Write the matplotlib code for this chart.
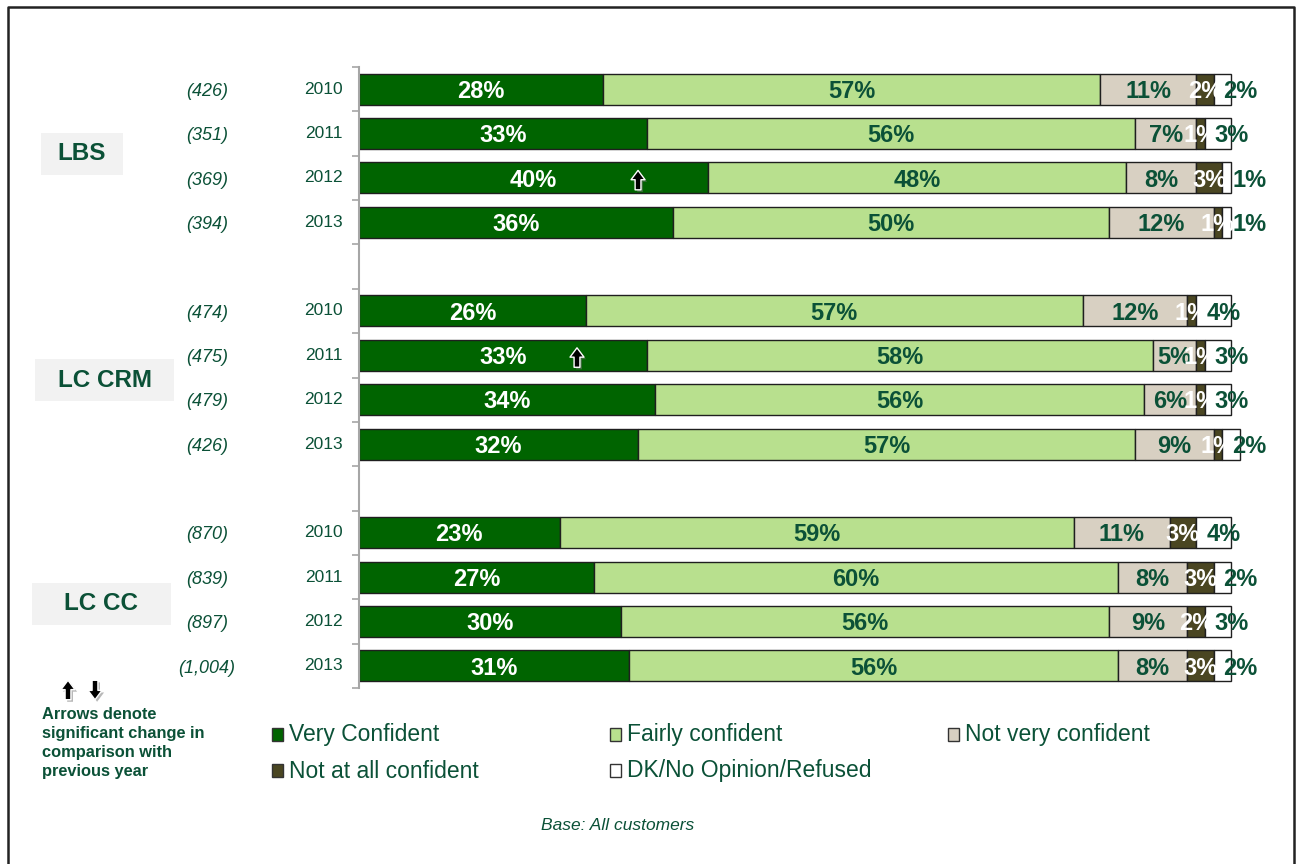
# ------------------------------------------------
# CONFIDENCE BY CHANNEL AND YEAR - STACKED BARS
import numpy as np
import matplotlib
matplotlib.use('Agg')
from matplotlib import pyplot as plt
from matplotlib.patches import Rectangle
from matplotlib.lines import Line2D
from matplotlib.path import Path
import matplotlib.transforms as mtrans
import matplotlib.patheffects as pe

plt.rcParams['font.family'] = ['Liberation Sans', 'DejaVu Sans']

# ------------------------------------------------
# DATA
groups = ['LBS', 'LC CRM', 'LC CC']
years = ['2010', '2011', '2012', '2013']
bases = ['(426)', '(351)', '(369)', '(394)',
         '(474)', '(475)', '(479)', '(426)',
         '(870)', '(839)', '(897)', '(1,004)']

very_conf = [28, 33, 40, 36, 26, 33, 34, 32, 23, 27, 30, 31]
fairly_conf = [57, 56, 48, 50, 57, 58, 56, 57, 59, 60, 56, 56]
not_very = [11, 7, 8, 12, 12, 5, 6, 9, 11, 8, 9, 8]
not_at_all = [2, 1, 3, 1, 1, 1, 1, 1, 3, 3, 2, 3]
dk_refused = [2, 3, 1, 1, 4, 3, 3, 2, 4, 2, 3, 2]

series_names = ['Very Confident', 'Fairly confident', 'Not very confident',
                'Not at all confident', 'DK/No Opinion/Refused']

# significant rises vs previous year
sig_up = [('LBS', '2012'), ('LC CRM', '2011')]

# ------------------------------------------------
# STYLE
W, H = 1297, 864
TXT = '#0b5137'
colors = ['#006400', '#b8e08e', '#d8d0c2', '#4a4622', '#ffffff']
label_colors = ['white', TXT, TXT, 'white', TXT]


def fx(x):
    return x / W


def fy(y):
    return 1 - y / H


fig = plt.figure(figsize=(W / 100, H / 100), dpi=100)
ax = fig.add_axes([fx(359), fy(688), 872 / W, 621 / H])
ax.set_xlim(0, 100)
ax.set_ylim(13.5, -0.5)

# 4 rows per group, blank slot between groups
pos = []
for g in range(len(groups)):
    for k in range(len(years)):
        pos.append(g * 5 + k)
pos = np.array(pos)

# ------------------------------------------------
# BARS + LABELS
all_series = [very_conf, fairly_conf, not_very, not_at_all, dk_refused]
left = np.zeros(len(pos))
for s, vals in enumerate(all_series):
    vals = np.array(vals, dtype=float)
    ax.barh(pos, vals, left=left, height=0.7, color=colors[s],
            edgecolor='#1f1f1f', linewidth=1, clip_on=False, zorder=2)
    for i in range(len(pos)):
        if s == 4:
            xt, ha = left[i] + 1.15, 'left'
        else:
            xt, ha = left[i] + vals[i] / 2, 'center'
        ax.text(xt, pos[i] + 0.05, '%d%%' % vals[i], ha=ha, va='center',
                fontsize=17, fontweight='bold', color=label_colors[s],
                zorder=5, clip_on=False)
    left = left + vals

# axis line with ticks between rows
for side in ['top', 'right', 'bottom']:
    ax.spines[side].set_visible(False)
ax.spines['left'].set_color('#a6a6a6')
ax.spines['left'].set_linewidth(1.5)
ax.set_xticks([])
ax.set_yticks(np.arange(-0.5, 14, 1))
ax.set_yticklabels([])
ax.tick_params(axis='y', length=5, width=1.2, color='#a6a6a6', direction='out')
ax.patch.set_visible(False)

# ------------------------------------------------
# ROW TEXT (years, base sizes, group boxes)
tr = mtrans.blended_transform_factory(fig.transFigure, ax.transData)
for i in range(len(pos)):
    ax.text(fx(343), pos[i], years[i % 4], transform=tr, ha='right', va='center',
            fontsize=12.5, color=TXT)
    ax.text(fx(207), pos[i] + 0.05, bases[i], transform=tr, ha='center', va='center',
            fontsize=13, style='italic', color=TXT)

group_boxes = [(41, 133, 123, 175), (35, 359, 174, 401), (32, 583, 171, 625)]
for name, (x0, y0, x1, y1) in zip(groups, group_boxes):
    fig.patches.append(Rectangle((fx(x0), fy(y1)), (x1 - x0) / W, (y1 - y0) / H,
                                 transform=fig.transFigure, facecolor='#f2f2f2',
                                 edgecolor='none'))
    fig.text(fx((x0 + x1) / 2), fy((y0 + y1) / 2), name, ha='center', va='center',
             fontsize=17.5, fontweight='bold', color=TXT)

# ------------------------------------------------
# ARROWS
up_path = Path([(-0.36, 0.02), (0, 0.5), (0.36, 0.02), (0.15, 0.02), (0.15, -0.5),
                (-0.15, -0.5), (-0.15, 0.02), (-0.36, 0.02)], closed=True)
down_path = Path([(x, -y) for x, y in up_path.vertices], closed=True)
shadow = [pe.SimplePatchShadow(offset=(1.5, -1.5), shadow_rgbFace='0.45', alpha=0.5),
          pe.Normal()]

for g, yr in sig_up:
    i = groups.index(g) * 4 + years.index(yr)
    ax.plot(very_conf[i] - 8, pos[i] + 0.05, marker=up_path, markersize=14,
            color='black', markeredgecolor='white', markeredgewidth=1,
            linestyle='none', zorder=6, path_effects=shadow)

for xp, p in [(68, up_path), (95, down_path)]:
    fig.add_artist(Line2D([fx(xp)], [fy(690)], transform=fig.transFigure, marker=p,
                          markersize=14, color='black', markeredgecolor='white',
                          markeredgewidth=1, linestyle='none', path_effects=shadow))

fig.text(fx(42), fy(707), 'Arrows denote\nsignificant change in\ncomparison with\nprevious year',
         ha='left', va='top', fontsize=11.8, fontweight='bold', color=TXT,
         linespacing=1.32)

# ------------------------------------------------
# LEGEND
leg_pos = [(272, 735), (610, 735), (948, 735), (272, 771), (610, 771)]
for s, (lx, ly) in enumerate(leg_pos):
    fig.patches.append(Rectangle((fx(lx), fy(ly + 6)), 11 / W, 13 / H,
                                 transform=fig.transFigure, facecolor=colors[s],
                                 edgecolor='#333333', linewidth=1))
    fig.text(fx(lx + 17), fy(ly), series_names[s], ha='left', va='center',
             fontsize=16.5, color=TXT)

fig.text(fx(618), fy(825), 'Base: All customers', ha='center', va='center',
         fontsize=12.5, style='italic', color=TXT)

# frame
fig.add_artist(Line2D([fx(8), fx(8), fx(1294), fx(1294)], [fy(880), fy(7), fy(7), fy(880)],
                      transform=fig.transFigure, color='#222222', linewidth=1.8))

fig.savefig('out.png', dpi=100)
print('OK')
